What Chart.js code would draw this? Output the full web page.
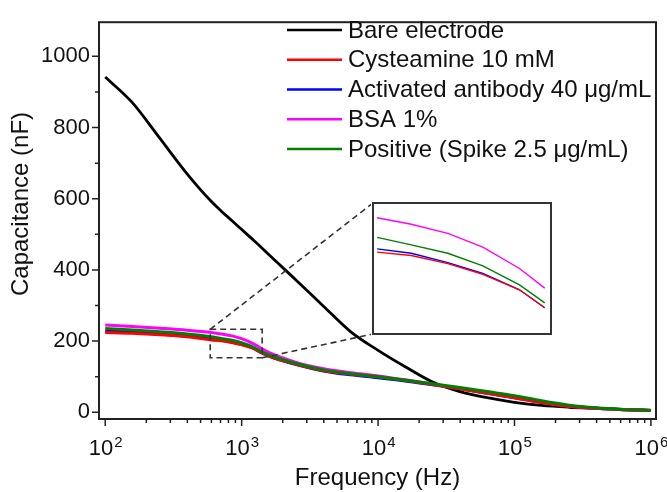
<!DOCTYPE html>
<html>
<head>
<meta charset="utf-8">
<script src="https://cdn.jsdelivr.net/npm/chart.js@4/dist/chart.umd.min.js"></script>
<style>
    body { margin: 0; background: #fff; }
    #wrap { position: relative; width: 667px; height: 492px; }
    #main { position: absolute; left: 0; top: 0; }
    #inset { position: absolute; background: #fff; }
</style>
</head>
<body>
<div id="wrap">
    <canvas id="main" width="667" height="492"></canvas>
    <canvas id="inset" width="182" height="135"></canvas>
</div>
<script>
// frequency (Hz) and capacitance (nF)
const freq = [100, 158, 251, 398, 600, 710, 850, 1010, 1210, 1370, 1580, 2510, 3980, 6310,
    10000, 15800, 25100, 39800, 63100, 100000, 158000, 251000, 398000, 631000, 1000000];
const bare = [942, 870, 770, 670, 592, 565, 538, 512, 485, 466, 443, 371, 298, 226,
    174, 128, 85, 58, 41, 28, 19, 14, 11, 8, 5.5];
const cysteamine = [224, 222, 218, 212, 203, 200.9, 196, 189.4, 180, 169, 158, 135, 117, 107,
    99.5, 90, 78, 66, 53, 41, 27, 17, 11, 7, 5];
const antibody = [228, 225, 220, 213.5, 205, 202.3, 196.6, 190, 180, 169, 158, 134, 116, 105,
    97, 88, 77, 66, 53, 41, 28, 18, 11, 7, 5];
const bsa = [245, 241, 236, 230.5, 224, 220, 214.5, 206, 193, 181, 168, 140, 122, 111,
    102, 91, 79, 67, 54, 41, 27, 17, 11, 7, 5];
const positive = [235, 231, 226, 220, 212, 207.4, 202.3, 194.6, 183, 172, 161, 137, 119, 108,
    99.5, 90, 80, 69.5, 58, 46.5, 32, 20, 12.5, 8, 5.5];

const labels = ['Bare electrode', 'Cysteamine 10 mM', 'Activated antibody 40 \u03bcg/mL',
    'BSA 1%', 'Positive (Spike 2.5 \u03bcg/mL)'];
const colors = ['#000000', '#ff0000', '#0000ff', '#ff00ff', '#008000'];
const values = [bare, cysteamine, antibody, bsa, positive];
const drawOrder = [4, 1, 3, 2, 0];

const yTicks = [0, 200, 400, 600, 800, 1000];
const yMinor = [100, 300, 500, 700, 900];
const xDecades = [2, 3, 4, 5, 6];

// zoom window shown in the inset
const zoomFreq = [588, 1413];
const zoomCap = [153, 233];
const insetBox = {left: 373, top: 203, right: 551, bottom: 334};

const FONT = '"Liberation Sans", Arial, sans-serif';

function points(vals, keep) {
    return freq.map((f, i) => ({x: f, y: vals[i]})).filter(p => !keep || keep(p.x));
}

const decorations = {
    id: 'decorations',
    afterDraw(chart) {
        const {ctx, chartArea: a} = chart;
        const x = chart.scales.x, y = chart.scales.y;
        ctx.save();

        // frame
        ctx.strokeStyle = '#222';
        ctx.lineWidth = 2;
        ctx.strokeRect(a.left, a.top, a.right - a.left, a.bottom - a.top);

        // x ticks
        ctx.lineWidth = 1.5;
        ctx.beginPath();
        xDecades.forEach(d => {
            for (let m = 1; m <= 9; m++) {
                const v = m * Math.pow(10, d);
                if (v > x.max || (m > 1 && d === 6)) continue;
                const px = x.getPixelForValue(v);
                ctx.moveTo(px, a.bottom);
                ctx.lineTo(px, a.bottom + (m === 1 ? 7 : 4));
            }
        });
        // y ticks
        yTicks.forEach(v => {
            const py = y.getPixelForValue(v);
            ctx.moveTo(a.left, py);
            ctx.lineTo(a.left - 7, py);
        });
        yMinor.forEach(v => {
            const py = y.getPixelForValue(v);
            ctx.moveTo(a.left, py);
            ctx.lineTo(a.left - 4, py);
        });
        ctx.stroke();

        // x tick labels 10^n
        ctx.fillStyle = '#111';
        ctx.textBaseline = 'alphabetic';
        ctx.textAlign = 'left';
        xDecades.forEach(d => {
            const px = x.getPixelForValue(Math.pow(10, d));
            ctx.font = '22px ' + FONT;
            const w1 = ctx.measureText('10').width;
            ctx.font = '15px ' + FONT;
            const w2 = ctx.measureText(String(d)).width;
            const left = px - (w1 + w2) / 2;
            ctx.font = '22px ' + FONT;
            ctx.fillText('10', left, 455);
            ctx.font = '15px ' + FONT;
            ctx.fillText(String(d), left + w1 + 1, 447);
        });

        // axis titles
        ctx.font = '24px ' + FONT;
        ctx.textAlign = 'center';
        ctx.fillText('Frequency (Hz)', (a.left + a.right) / 2, 485);
        ctx.save();
        ctx.translate(28, 204);
        ctx.rotate(-Math.PI / 2);
        ctx.fillText('Capacitance (nF)', 0, 0);
        ctx.restore();

        // legend
        ctx.textAlign = 'left';
        ctx.textBaseline = 'middle';
        labels.forEach((t, i) => {
            const ly = 30 + i * 29.75;
            ctx.strokeStyle = colors[i];
            ctx.lineWidth = 2.5;
            ctx.beginPath();
            ctx.moveTo(287, ly);
            ctx.lineTo(342, ly);
            ctx.stroke();
            ctx.fillStyle = '#111';
            ctx.fillText(t, 348, ly + 1);
        });

        // zoom rectangle and connectors
        const rl = x.getPixelForValue(zoomFreq[0]), rr = x.getPixelForValue(zoomFreq[1]);
        const rt = y.getPixelForValue(zoomCap[1]), rb = y.getPixelForValue(zoomCap[0]);
        ctx.strokeStyle = '#333';
        ctx.lineWidth = 1.6;
        ctx.setLineDash([6, 4]);
        ctx.strokeRect(rl, rt, rr - rl, rb - rt);
        ctx.beginPath();
        ctx.moveTo(rl, rt);
        ctx.lineTo(insetBox.left, insetBox.top);
        ctx.moveTo(rr, rb);
        ctx.lineTo(insetBox.left, insetBox.bottom);
        ctx.stroke();
        ctx.restore();
    }
};

new Chart(document.getElementById('main'), {
    type: 'line',
    data: {
        datasets: values.map((v, i) => ({
            label: labels[i],
            data: points(v),
            borderColor: colors[i],
            borderWidth: i === 0 ? 2.8 : 3,
            pointRadius: 0,
            cubicInterpolationMode: 'monotone',
            order: drawOrder[i]
        }))
    },
    options: {
        responsive: false,
        animation: false,
        devicePixelRatio: 1,
        layout: {padding: {top: 12, right: 11, left: 0, bottom: 0}},
        plugins: {legend: {display: false}, tooltip: {enabled: false}},
        scales: {
            x: {
                type: 'logarithmic',
                min: 90,
                max: 1.09e6,
                grid: {display: false, drawTicks: false},
                border: {display: false},
                ticks: {display: false},
                afterFit: s => { s.height = 73; }
            },
            y: {
                min: -19,
                max: 1096,
                grid: {display: false, drawTicks: false},
                border: {display: false},
                ticks: {
                    font: {family: FONT, size: 22},
                    color: '#111',
                    padding: 9,
                    callback: v => String(v)
                },
                afterBuildTicks: s => { s.ticks = yTicks.map(v => ({value: v})); },
                afterFit: s => { s.width = 99; }
            }
        }
    },
    plugins: [decorations]
});

// inset: same data, magnified
const insetCanvas = document.getElementById('inset');
insetCanvas.style.left = (insetBox.left - 2) + 'px';
insetCanvas.style.top = (insetBox.top - 2) + 'px';

const insetFrame = {
    id: 'insetFrame',
    afterDraw(chart) {
        const {ctx, chartArea: a} = chart;
        ctx.save();
        ctx.strokeStyle = '#333';
        ctx.lineWidth = 2;
        ctx.strokeRect(a.left, a.top, a.right - a.left, a.bottom - a.top);
        ctx.restore();
    }
};

const inZoom = f => f >= zoomFreq[0] && f <= zoomFreq[1];

new Chart(insetCanvas, {
    type: 'line',
    data: {
        datasets: values.slice(1).map((v, i) => ({
            data: points(v, inZoom),
            borderColor: colors[i + 1],
            borderWidth: 1.4,
            pointRadius: 0,
            tension: 0,
            order: drawOrder[i + 1]
        }))
    },
    options: {
        responsive: false,
        animation: false,
        devicePixelRatio: 1,
        layout: {padding: 2},
        plugins: {legend: {display: false}, tooltip: {enabled: false}},
        scales: {
            x: {type: 'logarithmic', display: false, min: zoomFreq[0], max: zoomFreq[1]},
            y: {display: false, min: zoomCap[0], max: zoomCap[1]}
        }
    },
    plugins: [insetFrame]
});
</script>
</body>
</html>
